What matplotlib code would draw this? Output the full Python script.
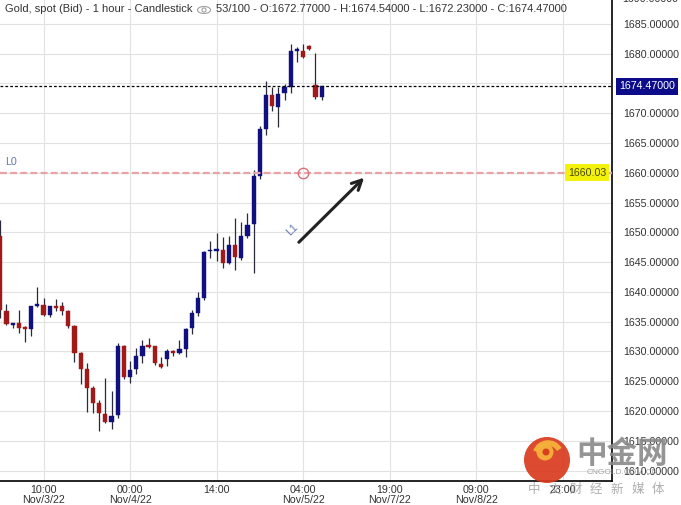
import numpy as np
import matplotlib
matplotlib.use("Agg")
import matplotlib.pyplot as plt
from matplotlib.patches import Circle, Ellipse, Arc

plt.rcParams['font.family'] = ['Liberation Sans', 'DejaVu Sans']
plt.rcParams['lines.scale_dashes'] = False

# ---------------- data ----------------
bar_index = np.arange(-7, 46)   # hourly bars, 0 = 10:00 Nov/3/22
opens = [1649.4, 1636.8, 1634.4, 1634.8, 1634.1, 1633.7, 1637.6,
         1637.8, 1636.1, 1637.6, 1637.6, 1636.8, 1634.3, 1629.8, 1627.1, 1623.9, 1621.4,
         1619.5, 1618.2, 1619.3, 1631.0, 1625.7, 1627.0, 1629.3, 1631.0, 1630.9, 1627.9,
         1628.7, 1630.1, 1629.7, 1630.5, 1633.9, 1636.4, 1639.0, 1646.8, 1647.0, 1647.0,
         1644.8, 1647.8, 1645.7, 1649.3, 1651.4, 1659.4, 1667.3, 1673.0, 1671.0, 1673.4,
         1674.4, 1680.4, 1680.4, 1681.2, 1674.7, 1672.77]
highs = [1652.1, 1638.0, 1634.8, 1636.9, 1634.3, 1637.6, 1640.8,
         1638.9, 1637.6, 1638.8, 1638.3, 1636.9, 1634.4, 1629.9, 1628.1, 1624.2, 1621.9,
         1625.5, 1623.4, 1631.4, 1631.1, 1628.4, 1630.6, 1631.9, 1632.3, 1631.0, 1629.1,
         1630.4, 1630.3, 1631.9, 1634.0, 1637.0, 1640.0, 1646.9, 1648.5, 1649.9, 1649.2,
         1649.4, 1652.4, 1651.7, 1653.2, 1660.4, 1667.8, 1675.4, 1674.4, 1674.4, 1674.9,
         1681.6, 1681.1, 1681.6, 1681.4, 1680.1, 1674.54]
lows = [1635.6, 1634.4, 1633.9, 1633.1, 1631.6, 1632.6, 1637.5,
        1636.0, 1635.8, 1636.8, 1636.1, 1633.9, 1628.2, 1624.6, 1619.8, 1619.7, 1616.7,
        1618.0, 1617.0, 1618.8, 1625.4, 1624.7, 1626.3, 1628.1, 1630.6, 1627.8, 1627.3,
        1627.6, 1629.2, 1629.5, 1629.1, 1633.0, 1636.0, 1638.6, 1645.7, 1645.2, 1644.0,
        1644.6, 1643.7, 1645.3, 1649.0, 1643.2, 1658.9, 1666.3, 1670.3, 1667.7, 1672.2,
        1673.4, 1678.6, 1679.3, 1680.6, 1672.4, 1672.23]
closes = [1637.0, 1634.6, 1634.8, 1633.9, 1633.7, 1637.6, 1638.0,
          1636.1, 1637.6, 1637.4, 1636.8, 1634.3, 1629.8, 1627.1, 1623.9, 1621.4, 1619.7,
          1618.2, 1619.2, 1631.0, 1625.7, 1626.9, 1629.2, 1630.9, 1630.8, 1628.1, 1627.4,
          1630.1, 1629.7, 1630.5, 1633.8, 1636.4, 1639.0, 1646.7, 1647.0, 1647.1, 1644.8,
          1647.8, 1645.8, 1649.3, 1651.2, 1659.4, 1667.3, 1673.0, 1671.2, 1673.2, 1674.4,
          1680.4, 1680.7, 1679.4, 1680.7, 1672.7, 1674.47]

xtick_pos = [0, 14, 28, 42, 56, 70, 84]
xtick_labels = ["10:00\nNov/3/22", "00:00\nNov/4/22", "14:00", "04:00\nNov/5/22",
                "19:00\nNov/7/22", "09:00\nNov/8/22", "23:00"]
ytick_vals = np.arange(1610, 1690, 5)
last_price = 1674.47
level_L0 = 1660.03
title = "Gold, spot (Bid) - 1 hour - Candlestick"
title_rest = "53/100 - O:1672.77000 - H:1674.54000 - L:1672.23000 - C:1674.47000"

# ---------------- figure ----------------
W, H = 681, 505
fig = plt.figure(figsize=(W / 100, H / 100), dpi=100)
ax = fig.add_axes([0, 24 / H, 612 / W, 481 / H])
ax.set_xlim(-7.05, 92.0)
ax.set_ylim(1608.27, 1688.98)

for s in ['left', 'top']:
    ax.spines[s].set_visible(False)
for s in ['right', 'bottom']:
    ax.spines[s].set_color('black')
    ax.spines[s].set_linewidth(1.2)

ax.yaxis.tick_right()
ax.set_yticks(ytick_vals)
# the 1675 label is hidden behind the last-price box in the reference
ax.set_yticklabels(["" if abs(v - 1675) < 1e-9 else f"{v:.5f}" for v in ytick_vals])
ax.set_xticks(xtick_pos)
ax.set_xticklabels(xtick_labels, linespacing=0.95)
ax.tick_params(axis='both', length=0, labelsize=7.7, labelcolor='#333333')
ax.tick_params(axis='y', pad=8)
ax.tick_params(axis='x', pad=3)
ax.grid(True, color='#e2e2e2', linewidth=0.8)
ax.set_axisbelow(True)

blue = '#10107e'
red = '#a01a1a'
bw = 0.68
for x, o, h, l, c in zip(bar_index, opens, highs, lows, closes):
    col = blue if c >= o else red
    ax.vlines(x, l, h, color='#2a2a3a', linewidth=0.9, zorder=3)
    lo, hi = min(o, c), max(o, c)
    if hi - lo < 0.25:
        lo, hi = (lo + hi) / 2 - 0.12, (lo + hi) / 2 + 0.12
    ax.bar(x, hi - lo, bottom=lo, width=bw, color=col, edgecolor=col,
           linewidth=0.3, zorder=4)

# last price dotted line
ax.axhline(last_price, color='black', linewidth=0.9, dashes=(2, 1.5), zorder=5)
# L0 level line
ax.axhline(level_L0, color='#e8a3a6', linewidth=1.6, dashes=(5, 2.3), zorder=5)
ax.plot([42], [level_L0], marker='o', markersize=7.5, markerfacecolor='none',
        markeredgecolor='#d8707a', markeredgewidth=1.0, zorder=6)
ax.text(-6.3, level_L0 + 0.9, "L0", fontsize=7.7, color='#6078b0', va='bottom', ha='left')
ax.text(1 - 6 / 612, level_L0, "1660.03", transform=ax.get_yaxis_transform(),
        ha='right', va='center', fontsize=7.7, color='#4a4a10', zorder=7,
        bbox=dict(boxstyle='square,pad=0.3', facecolor='#f4f20c', edgecolor='none'))
ax.text(1.012, last_price, "1674.47000", transform=ax.get_yaxis_transform(),
        ha='left', va='center', fontsize=7.7, color='white', zorder=7, clip_on=False,
        bbox=dict(boxstyle='square,pad=0.3', facecolor='#0c0c8a', edgecolor='none'))

# arrow + L1
ax.annotate("", xy=(52.2, 1659.5), xytext=(41.0, 1648.0),
            arrowprops=dict(arrowstyle='->,head_length=0.7,head_width=0.35',
                            color='#222222', linewidth=2.2), zorder=6)
ax.text(40.3, 1650.4, "L1", rotation=45, fontsize=7.7, color='#6078b0',
        ha='center', va='center')

# title
fig.text(5 / W, 1 - 9 / H, title, fontsize=8.0, color='#333333', va='center', ha='left')
fig.text(216 / W, 1 - 9 / H, title_rest, fontsize=8.0, color='#333333', va='center', ha='left')

# overlay for icon + watermark in pixel coordinates
ov = fig.add_axes([0, 0, 1, 1], zorder=10)
ov.set_xlim(0, W)
ov.set_ylim(H, 0)
ov.axis('off')
ov.patch.set_alpha(0)
ov.add_patch(Ellipse((204, 10), 13, 7, facecolor='none', edgecolor='#a0a0a0', linewidth=0.8))
ov.add_patch(Circle((204, 10), 2.0, facecolor='none', edgecolor='#a0a0a0', linewidth=0.8))
# clipped top tick label
ov.text(622, -1, "1690.00000", fontsize=7.7, color='#333333', ha='left', va='center',
        clip_on=False)

# watermark logo
ov.add_patch(Circle((547, 460), 23, facecolor='#d93a1e', edgecolor='none', alpha=0.92))
ov.add_patch(Circle((545, 452), 8.5, facecolor='#f6b13a', edgecolor='none', alpha=0.95))
ov.add_patch(Circle((546, 452), 3.5, facecolor='#d93a1e', edgecolor='none', alpha=0.95))
ov.add_patch(Arc((548, 456), 26, 26, theta1=200, theta2=330, color='#f6b13a', linewidth=4, alpha=0.95))
ov.text(622, 454, "中金网", fontsize=22, fontweight='bold', color='#8a8a8a', alpha=0.9,
        ha='center', va='center', family=['Noto Sans CJK SC', 'DejaVu Sans'])
ov.text(622, 472, "CNGOLD.COM.CN", fontsize=6, color='#999999', alpha=0.9,
        ha='center', va='center')
for k, ch in enumerate("中文财经新媒体"):
    ov.text(534 + k * 20.7, 489, ch, fontsize=9, color='#9a9a9a', alpha=0.8,
            ha='center', va='center', family=['Noto Sans CJK SC', 'DejaVu Sans'])

fig.savefig("out.png", dpi=100)
